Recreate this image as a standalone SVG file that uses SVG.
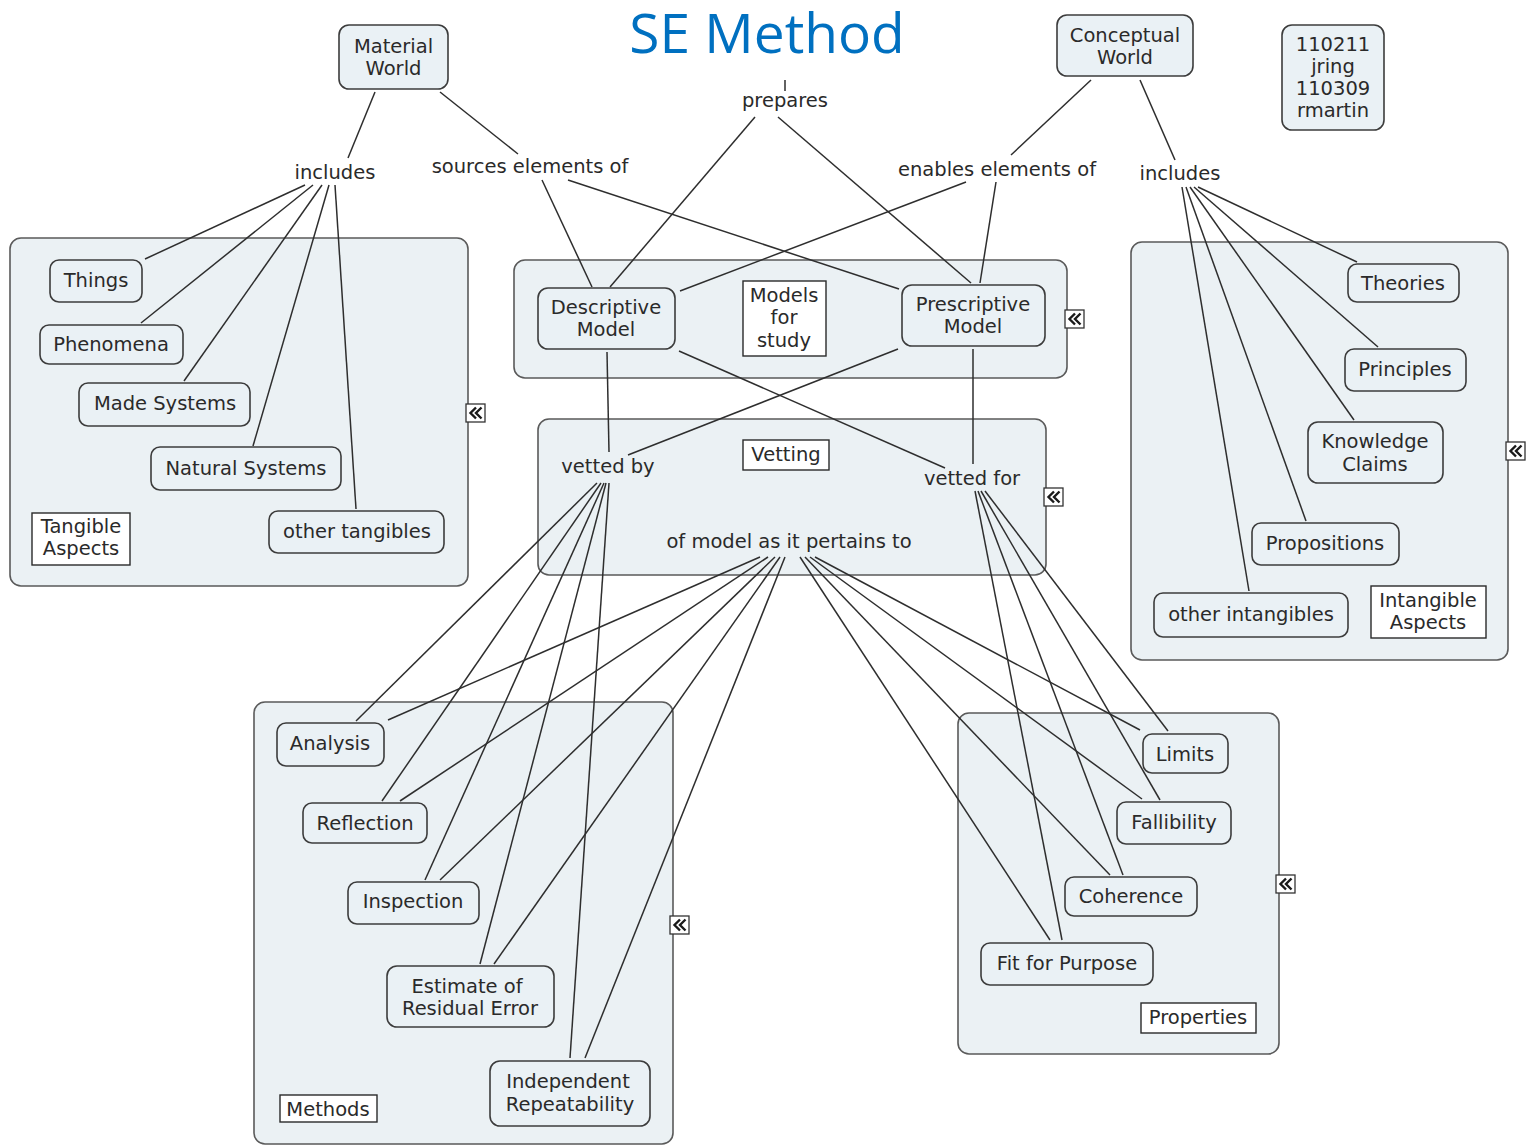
<svg xmlns="http://www.w3.org/2000/svg" xmlns:xlink="http://www.w3.org/1999/xlink" width="1526" height="1146" viewBox="0 0 1526 1146">
<style>
text{font-family:"DejaVu Sans","Liberation Sans",sans-serif;font-size:19.5px;fill:#2a2a2a;text-anchor:middle}
.title{font-family:"Open Sans","Liberation Sans",sans-serif;font-size:55px;fill:#0070C0}
.cont{fill:#ebf1f4;stroke:#5a5a5a;stroke-width:1.6}
.node{fill:#eaf1f5;stroke:#3c3c3c;stroke-width:1.6}
.lbl{fill:#ffffff;stroke:#2a2a2a;stroke-width:1.4}
.links line{stroke:#2e2e2e;stroke-width:1.5}
.ico{fill:#fff;stroke:#333;stroke-width:1.3}
.chev{fill:none;stroke:#1a1a1a;stroke-width:2.4}
</style>
<defs>
<g id="collapse">
<rect class="ico" x="0" y="0" width="19" height="18"/>
<path class="chev" d="M10 3.5 L4.5 9 L10 14.5 M15.5 3.5 L10 9 L15.5 14.5"/>
</g>
</defs>
<rect width="1526" height="1146" fill="#ffffff"/>
<text class="title" x="767" y="53">SE Method</text>

<g id="containers">
<g id="tangible-aspects"><rect class="cont" x="10" y="238" width="458" height="348" rx="11"/><use xlink:href="#collapse" x="466" y="404"/></g>
<g id="models-for-study"><rect class="cont" x="514" y="260" width="553" height="118" rx="11"/><use xlink:href="#collapse" x="1065" y="310"/></g>
<g id="vetting"><rect class="cont" x="538" y="419" width="508" height="156" rx="11"/><use xlink:href="#collapse" x="1044" y="488"/></g>
<g id="intangible-aspects"><rect class="cont" x="1131" y="242" width="377" height="418" rx="11"/><use xlink:href="#collapse" x="1506" y="442"/></g>
<g id="methods"><rect class="cont" x="254" y="702" width="419" height="442" rx="11"/><use xlink:href="#collapse" x="670" y="916"/></g>
<g id="properties"><rect class="cont" x="958" y="713" width="321" height="341" rx="11"/><use xlink:href="#collapse" x="1276" y="875"/></g>
</g>

<g id="connectors" class="links">
<line x1="375" y1="92" x2="348" y2="158"/>
<line x1="440" y1="92" x2="518" y2="154"/>
<line x1="305" y1="185" x2="145" y2="259"/>
<line x1="313" y1="185" x2="141" y2="323"/>
<line x1="322" y1="185" x2="184" y2="381"/>
<line x1="329" y1="185" x2="253" y2="446"/>
<line x1="335" y1="185" x2="356" y2="509"/>
<line x1="542" y1="180" x2="592" y2="287"/>
<line x1="568" y1="180" x2="899" y2="289"/>
<line x1="785" y1="80" x2="785" y2="91"/>
<line x1="755" y1="117" x2="610" y2="287"/>
<line x1="778" y1="117" x2="971" y2="283"/>
<line x1="1091" y1="80" x2="1011" y2="155"/>
<line x1="1140" y1="80" x2="1175" y2="160"/>
<line x1="966" y1="182" x2="680" y2="291"/>
<line x1="996" y1="182" x2="980" y2="283"/>
<line x1="1198" y1="187" x2="1357" y2="262"/>
<line x1="1194" y1="187" x2="1378" y2="347"/>
<line x1="1190" y1="187" x2="1354" y2="420"/>
<line x1="1186" y1="187" x2="1306" y2="521"/>
<line x1="1182" y1="187" x2="1249" y2="591"/>
<line x1="607" y1="352" x2="609" y2="452"/>
<line x1="898" y1="349" x2="628" y2="455"/>
<line x1="679" y1="351" x2="945" y2="468"/>
<line x1="973" y1="349" x2="973" y2="464"/>
<line x1="597" y1="483" x2="356" y2="721"/>
<line x1="601" y1="483" x2="382" y2="801"/>
<line x1="604" y1="483" x2="425" y2="880"/>
<line x1="606" y1="483" x2="480" y2="964"/>
<line x1="609" y1="483" x2="570" y2="1058"/>
<line x1="760" y1="557" x2="388" y2="720"/>
<line x1="768" y1="557" x2="400" y2="801"/>
<line x1="775" y1="557" x2="440" y2="880"/>
<line x1="780" y1="557" x2="494" y2="964"/>
<line x1="785" y1="557" x2="585" y2="1058"/>
<line x1="800" y1="557" x2="1050" y2="940"/>
<line x1="805" y1="557" x2="1110" y2="875"/>
<line x1="810" y1="557" x2="1142" y2="799"/>
<line x1="815" y1="557" x2="1140" y2="730"/>
<line x1="975" y1="491" x2="1062" y2="940"/>
<line x1="978" y1="491" x2="1123" y2="875"/>
<line x1="981" y1="491" x2="1160" y2="800"/>
<line x1="985" y1="491" x2="1168" y2="731"/>
</g>

<g id="material-world"><rect class="node" x="339" y="25" width="109" height="64" rx="10"/><text x="393.5" y="53">Material</text><text x="393.5" y="75">World</text></g>
<g id="conceptual-world"><rect class="node" x="1057" y="15" width="136" height="61" rx="10"/><text x="1125" y="42">Conceptual</text><text x="1125" y="64">World</text></g>
<g id="date-note"><rect class="node" x="1282" y="25" width="102" height="105" rx="10"/><text x="1333" y="51">110211</text><text x="1333" y="73">jring</text><text x="1333" y="95">110309</text><text x="1333" y="117">rmartin</text></g>

<g id="lp-includes-left"><text x="335" y="179">includes</text></g>
<g id="lp-sources"><text x="530" y="173">sources elements of</text></g>
<g id="lp-prepares"><text x="785" y="107">prepares</text></g>
<g id="lp-enables"><text x="997" y="176">enables elements of</text></g>
<g id="lp-includes-right"><text x="1180" y="180">includes</text></g>
<g id="lp-vetted-by"><text x="608" y="473">vetted by</text></g>
<g id="lp-vetted-for"><text x="972" y="485">vetted for</text></g>
<g id="lp-pertains"><text x="789" y="548">of model as it pertains to</text></g>

<g id="things"><rect class="node" x="50" y="260" width="92" height="42" rx="9"/><text x="96" y="287">Things</text></g>
<g id="phenomena"><rect class="node" x="40" y="325" width="143" height="39" rx="9"/><text x="111" y="351">Phenomena</text></g>
<g id="made-systems"><rect class="node" x="79" y="383" width="171" height="43" rx="9"/><text x="165" y="410">Made Systems</text></g>
<g id="natural-systems"><rect class="node" x="151" y="447" width="190" height="43" rx="9"/><text x="246" y="475">Natural Systems</text></g>
<g id="other-tangibles"><rect class="node" x="269" y="511" width="175" height="42" rx="9"/><text x="357" y="538">other tangibles</text></g>
<g id="label-tangible"><rect class="lbl" x="32" y="513" width="98" height="52"/><text x="81" y="533">Tangible</text><text x="81" y="555">Aspects</text></g>

<g id="descriptive-model"><rect class="node" x="538" y="288" width="137" height="61" rx="10"/><text x="606" y="314">Descriptive</text><text x="606" y="336">Model</text></g>
<g id="label-models"><rect class="lbl" x="743" y="281" width="83" height="75"/><text x="784" y="302">Models</text><text x="784" y="324">for</text><text x="784" y="347">study</text></g>
<g id="prescriptive-model"><rect class="node" x="902" y="285" width="143" height="61" rx="10"/><text x="973" y="311">Prescriptive</text><text x="973" y="333">Model</text></g>
<g id="label-vetting"><rect class="lbl" x="743" y="440" width="86" height="30"/><text x="786" y="461">Vetting</text></g>

<g id="theories"><rect class="node" x="1348" y="264" width="111" height="38" rx="9"/><text x="1403" y="290">Theories</text></g>
<g id="principles"><rect class="node" x="1345" y="349" width="121" height="42" rx="9"/><text x="1405" y="376">Principles</text></g>
<g id="knowledge-claims"><rect class="node" x="1308" y="422" width="135" height="61" rx="10"/><text x="1375" y="448">Knowledge</text><text x="1375" y="471">Claims</text></g>
<g id="propositions"><rect class="node" x="1252" y="523" width="147" height="42" rx="9"/><text x="1325" y="550">Propositions</text></g>
<g id="other-intangibles"><rect class="node" x="1154" y="593" width="194" height="44" rx="9"/><text x="1251" y="621">other intangibles</text></g>
<g id="label-intangible"><rect class="lbl" x="1371" y="586" width="115" height="52"/><text x="1428" y="607">Intangible</text><text x="1428" y="629">Aspects</text></g>

<g id="analysis"><rect class="node" x="277" y="723" width="107" height="43" rx="9"/><text x="330" y="750">Analysis</text></g>
<g id="reflection"><rect class="node" x="303" y="803" width="124" height="40" rx="9"/><text x="365" y="830">Reflection</text></g>
<g id="inspection"><rect class="node" x="348" y="882" width="131" height="42" rx="9"/><text x="413" y="908">Inspection</text></g>
<g id="estimate"><rect class="node" x="387" y="966" width="167" height="61" rx="10"/><text x="467" y="993">Estimate of</text><text x="470" y="1015">Residual Error</text></g>
<g id="independent"><rect class="node" x="490" y="1061" width="160" height="65" rx="10"/><text x="568" y="1088">Independent</text><text x="570" y="1111">Repeatability</text></g>
<g id="label-methods"><rect class="lbl" x="280" y="1095" width="97" height="27"/><text x="328" y="1116">Methods</text></g>

<g id="limits"><rect class="node" x="1143" y="734" width="85" height="39" rx="9"/><text x="1185" y="761">Limits</text></g>
<g id="fallibility"><rect class="node" x="1117" y="802" width="114" height="42" rx="9"/><text x="1174" y="829">Fallibility</text></g>
<g id="coherence"><rect class="node" x="1065" y="877" width="132" height="39" rx="9"/><text x="1131" y="903">Coherence</text></g>
<g id="fit-for-purpose"><rect class="node" x="981" y="943" width="172" height="42" rx="9"/><text x="1067" y="970">Fit for Purpose</text></g>
<g id="label-properties"><rect class="lbl" x="1141" y="1003" width="115" height="30"/><text x="1198" y="1024">Properties</text></g>
</svg>
